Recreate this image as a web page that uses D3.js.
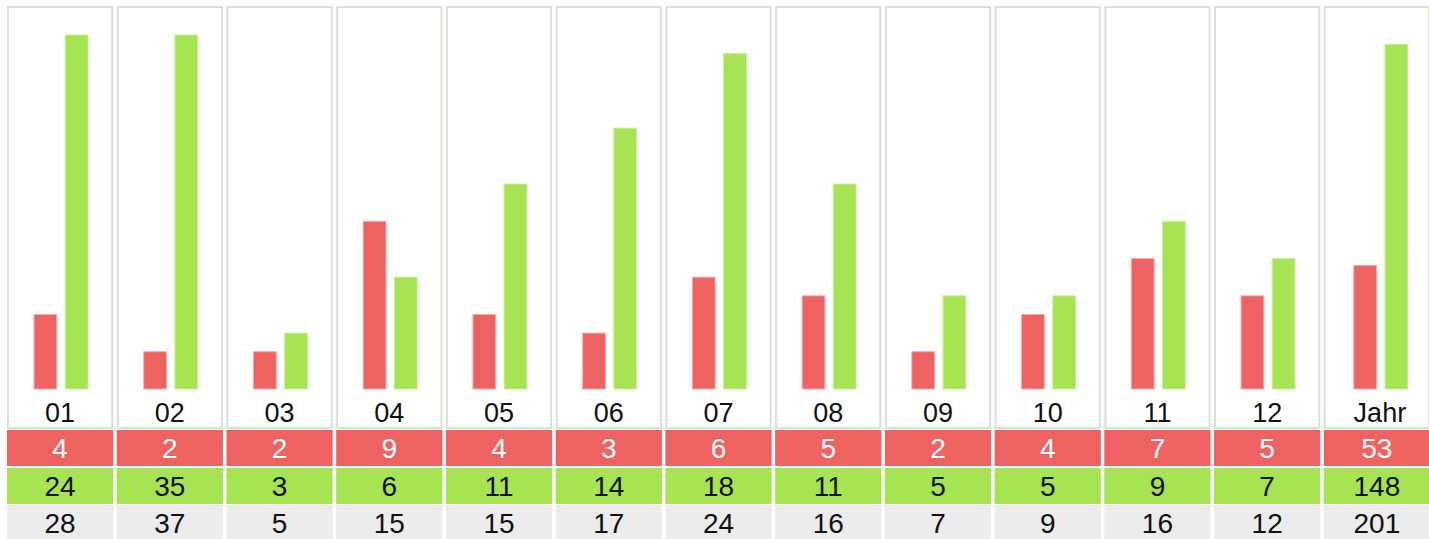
<!DOCTYPE html>
<html>
<head>
<meta charset="utf-8">
<script src="https://cdn.jsdelivr.net/npm/d3@7"></script>
<style>
  html, body { margin: 0; padding: 0; background: #fff; }
  svg { display: block; font-family: "Liberation Sans", Arial, sans-serif; }
</style>
</head>
<body>
<div id="chart"></div>
<script>
// Daten
const labels = ["01", "02", "03", "04", "05", "06", "07", "08", "09", "10", "11", "12", "Jahr"];
const rotWerte = [4, 2, 2, 9, 4, 3, 6, 5, 2, 4, 7, 5, 53];
const gruenWerte = [24, 35, 3, 6, 11, 14, 18, 11, 5, 5, 9, 7, 148];
const summen = [28, 37, 5, 15, 15, 17, 24, 16, 7, 9, 16, 12, 201];

// Konfiguration
const width = 1429;
const height = 539;
const rot = "#ef6262";
const gruen = "#a6e453";
const grau = "#ececec";

const svg = d3.select("#chart").append("svg")
    .attr("width", width)
    .attr("height", height);

// Spalten
const x = d3.scaleBand()
    .domain(labels)
    .range([7, 1430])
    .paddingInner(0.032);

// Balken innerhalb einer Spalte
const xInner = d3.scaleBand()
    .domain(["rot", "gruen"])
    .range([27, 81])
    .paddingInner(0.27);

// Monate und Jahr haben eigene Skalen, zu hohe Werte werden abgeschnitten
const yMonat = d3.scaleLinear().domain([0, 19]).range([389, 35]).clamp(true);
const yJahr = d3.scaleLinear().domain([0, 152]).range([389, 35]).clamp(true);

const boxTop = 7;
const boxBottom = 428;

const spalten = svg.selectAll("g.spalte")
    .data(labels)
    .join("g")
    .attr("class", "spalte")
    .attr("transform", d => `translate(${x(d)},0)`);

// Rahmen
spalten.append("rect")
    .attr("x", 1)
    .attr("y", boxTop)
    .attr("width", x.bandwidth() - 2)
    .attr("height", boxBottom - boxTop)
    .attr("fill", "#fff")
    .attr("stroke", "#dfdfd8")
    .attr("stroke-width", 2);

// Balken
spalten.each(function (d, i) {
    const g = d3.select(this);
    const y = d === "Jahr" ? yJahr : yMonat;
    const dx = d === "Jahr" ? 3 : 0; // Jahresspalte ist etwas breiter
    [["rot", rotWerte[i], rot, "#f7aaaa"], ["gruen", gruenWerte[i], gruen, "#c8ef98"]].forEach(([k, v, fill, stroke]) => {
        g.append("rect")
            .attr("x", xInner(k) + dx)
            .attr("y", y(v))
            .attr("width", xInner.bandwidth())
            .attr("height", y(0) - y(v))
            .attr("fill", fill)
            .attr("stroke", stroke)
            .attr("stroke-width", 1);
    });
});

// Beschriftung
spalten.append("text")
    .attr("x", d => x.bandwidth() / 2 + (d === "Jahr" ? 3 : 0))
    .attr("y", 421.5)
    .attr("text-anchor", "middle")
    .attr("font-size", "27px")
    .attr("fill", "#111")
    .text(d => d);

// Tabelle
const zeilen = [
    { werte: rotWerte, fill: rot, text: "#fff", y: 430 },
    { werte: gruenWerte, fill: gruen, text: "#111", y: 468 },
    { werte: summen, fill: grau, text: "#111", y: 505 }
];
const zeilenHoehe = 36;

zeilen.forEach(z => {
    const zeile = svg.append("g");
    zeile.selectAll("rect")
        .data(labels)
        .join("rect")
        .attr("x", d => x(d))
        .attr("y", z.y)
        .attr("width", x.bandwidth())
        .attr("height", zeilenHoehe)
        .attr("fill", z.fill);
    zeile.selectAll("text")
        .data(labels)
        .join("text")
        .attr("x", d => x(d) + x.bandwidth() / 2)
        .attr("y", z.y + zeilenHoehe / 2 + 10)
        .attr("text-anchor", "middle")
        .attr("font-size", "28px")
        .attr("fill", z.text)
        .text((d, i) => z.werte[i]);
});
</script>
</body>
</html>
